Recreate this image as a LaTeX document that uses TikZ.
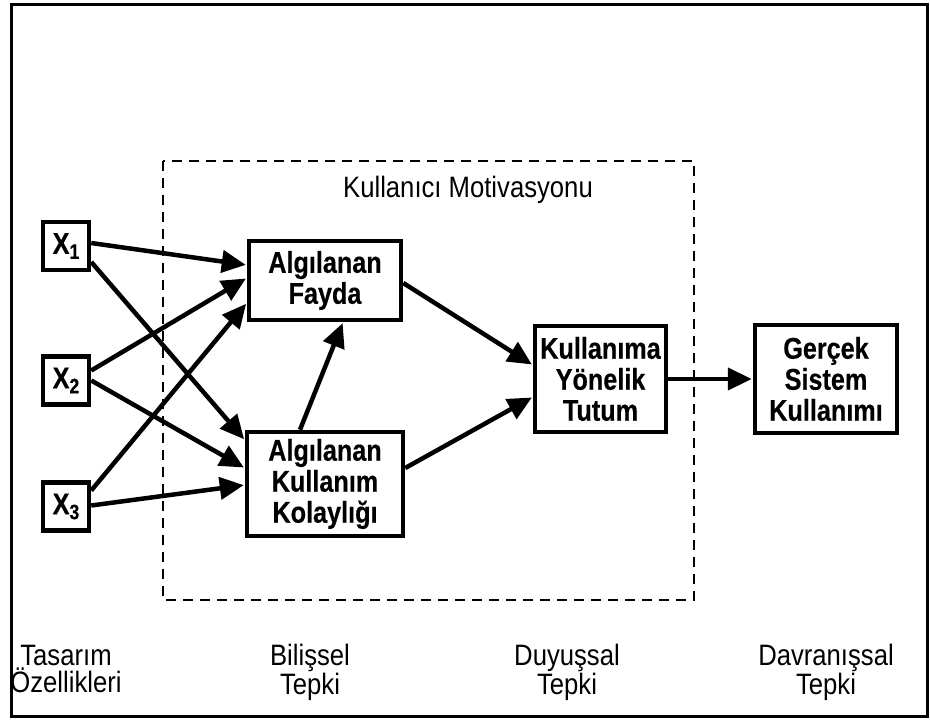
\documentclass[tikz,border=0pt]{standalone}
\usepackage{fontspec}
\newfontfamily\regf{Liberation Sans}[FakeStretch=0.87]
\newfontfamily\boldf{Liberation Sans}[UprightFont={* Bold}, FakeStretch=0.84, FakeBold=0.4]
\usetikzlibrary{arrows.meta,calc}
\begin{document}
\begin{tikzpicture}[x=1pt,y=-1pt,
  box/.style={draw, line width=4.5pt, align=center, inner sep=0pt,
    font=\boldf\fontsize{30}{31}\selectfont},
  arr/.style={line width=4.5pt, -{Triangle[length=24pt,width=22pt]}, shorten >=1pt},
  lbl/.style={align=center, inner sep=0pt, anchor=north, font=\regf\fontsize{29.5}{27}\selectfont}
]
\useasboundingbox (0,0) rectangle (930,721);
\draw[line width=3pt] (11,4) rectangle (927,716);
\draw[line width=2pt, dash pattern=on 10pt off 7pt] (163,161) rectangle (694,600);

\node[lbl, anchor=base] (mot) at (468,197) {Kullanıcı Motivasyonu};

\newcommand\xlab[1]{X\raisebox{-5pt}{\fontsize{21}{21}\selectfont #1}}
\node[box, minimum width=46pt, minimum height=48pt] (x1) at (66,246) {\xlab{1}};
\node[box, minimum width=46pt, minimum height=48pt] (x2) at (66,380.5) {\xlab{2}};
\node[box, minimum width=46pt, minimum height=48pt] (x3) at (66,506.5) {\xlab{3}};

\node[box, minimum width=152pt, minimum height=79pt] (af) at (325,280.5) {Algılanan\\Fayda};
\node[box, minimum width=156pt, minimum height=104pt] (akk) at (325,484) {Algılanan\\Kullanım\\Kolaylığı};
\node[box, minimum width=131pt, minimum height=106pt] (kyt) at (600.5,379) {Kullanıma\\Yönelik\\Tutum};
\node[box, minimum width=142pt, minimum height=108pt] (gsk) at (826,379) {Gerçek\\Sistem\\Kullanımı};

\draw[arr] ($(x1.east)+(0,-3)$) -- ($(af.west)+(0,-15.5)$);
\draw[arr] ($(x1.east)+(0,16)$) -- ($(akk.west)+(0,-44)$);
\draw[arr] ($(x2.east)+(0,-10)$) -- ($(af.west)+(0,-2.5)$);
\draw[arr] ($(x2.east)+(0,0)$) -- ($(akk.west)+(0,-16)$);
\draw[arr] ($(x3.east)+(0,-16)$) -- ($(af.west)+(0,22.5)$);
\draw[arr] ($(x3.east)+(0,-1)$) -- ($(akk.west)+(0,1)$);

\draw[arr] ($(akk.north)+(-25,0)$) -- ($(af.south)+(18,0)$);
\draw[arr] ($(af.east)+(0,2.5)$) -- ($(kyt.west)+(0,-14)$);
\draw[arr] ($(akk.east)+(0,-16)$) -- ($(kyt.west)+(0,18)$);
\draw[arr] (kyt.east) -- (gsk.west);

\node[lbl] (l1) at (66,641) {\vphantom{Ö}Tasarım\\Özellikleri};
\node[lbl] (l2) at (310,641) {\vphantom{Ö}Bilişsel\\Tepki};
\node[lbl] (l3) at (567,641) {\vphantom{Ö}Duyuşsal\\Tepki};
\node[lbl] (l4) at (826,641) {\vphantom{Ö}Davranışsal\\Tepki};
\end{tikzpicture}
\end{document}
